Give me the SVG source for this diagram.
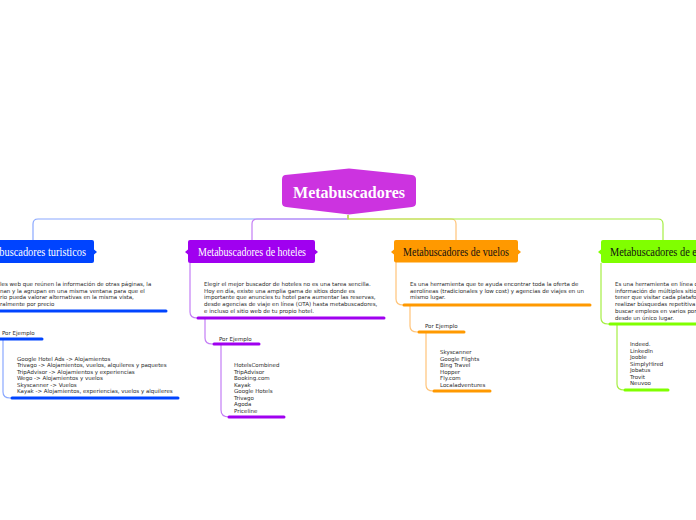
<svg xmlns="http://www.w3.org/2000/svg" width="696" height="520" viewBox="0 0 696 520">
<style>
.t{font-family:"DejaVu Sans","Liberation Sans",sans-serif;font-size:5.5px;fill:#2a2a2a}
.title{font-family:"Liberation Serif","DejaVu Serif",serif;font-size:12px}
.c{fill:none;stroke-width:1.2}
.bar{fill:none;stroke-width:3;stroke-linecap:round}
</style>
<rect width="696" height="520" fill="#fff"/>
<g id="connectors">
<path class="c" stroke="#8aa8ff" d="M348,215 V219 H38 Q33,219 33,224 V240"/>
<path class="c" stroke="#c47ef5" d="M348,215 V219 H257 Q252,219 252,224 V240"/>
<path class="c" stroke="#ffc47a" d="M348,215 V219 H451 Q456,219 456,224 V240"/>
<path class="c" stroke="#a6ee44" d="M348,215 V219 H658 Q663,219 663,224 V240"/>
<path class="c" stroke="#8aa8ff" d="M3,339 V392 Q3,398 10,398 H14"/>
<path class="c" stroke="#c47ef5" d="M190,263 V312 Q190,318 197,318 H200"/>
<path class="c" stroke="#c47ef5" d="M205,318 V338 Q205,344 212,344 H216"/>
<path class="c" stroke="#c47ef5" d="M221,344 V410 Q221,417 229,417 H231"/>
<path class="c" stroke="#ffc47a" d="M396,262 V299 Q396,305 403,305 H406"/>
<path class="c" stroke="#ffc47a" d="M410,305 V326 Q410,332 417,332 H420"/>
<path class="c" stroke="#ffc47a" d="M426,332 V385 Q426,391 433,391 H436"/>
<path class="c" stroke="#a6ee44" d="M601,263 V318 Q601,324 608,324 H611"/>
<path class="c" stroke="#a6ee44" d="M617,324 V384 Q617,390 624,390 H627"/>
</g>
<g id="central">
<path fill="#cc33e0" d="M285,175 L349,168.5 L412,175 Q416,175.5 416,179.5 L416,203 Q416,206.5 412,207 L349,214.5 L286,207 Q282,206.5 282,203 L282,179.5 Q282,175.5 285,175 Z"/>
<text x="349" y="198" text-anchor="middle" font-family="Liberation Serif,DejaVu Serif,serif" font-size="17" font-weight="bold" fill="#fff" textLength="112" lengthAdjust="spacingAndGlyphs">Metabuscadores</text>
</g>
<g id="node-turisticos">
<rect x="-32" y="240" width="126" height="23" rx="2" fill="#0044ff"/>
<polygon points="94,249.5 97,252 94,254.5" fill="#0044ff"/>
<text class="title" x="-22" y="256" fill="#fff" textLength="108" lengthAdjust="spacingAndGlyphs">Metabuscadores turisticos</text>
</g>
<g id="desc-turisticos">
<text class="t" x="0" y="286">les web que reúnen la información de otras páginas, la</text>
<text class="t" x="0" y="292.7">nan y la agrupan en una misma ventana para que el</text>
<text class="t" x="0" y="299.4">rio pueda valorar alternativas en la misma vista,</text>
<text class="t" x="0" y="306">ralmente por precio</text>
<line class="bar" stroke="#0044ff" x1="-2" y1="311" x2="166" y2="311"/>
</g>
<g id="ej-turisticos">
<text class="t" x="2" y="335">Por Ejemplo</text>
<line class="bar" stroke="#0044ff" x1="-2" y1="339" x2="42" y2="339"/>
</g>
<g id="list-turisticos">
<text class="t" x="17" y="360.5">Google Hotel Ads -&gt; Alojamientos</text>
<text class="t" x="17" y="367">Trivago -&gt; Alojamientos, vuelos, alquileres y paquetes</text>
<text class="t" x="17" y="373.5">TripAdvisor -&gt; Alojamientos y experiencias</text>
<text class="t" x="17" y="380">Wego -&gt; Alojamientos y vuelos</text>
<text class="t" x="17" y="386.5">Skyscanner -&gt; Vuelos</text>
<text class="t" x="17" y="393">Kayak -&gt; Alojamientos, experiencias, vuelos y alquileres</text>
<line class="bar" stroke="#0044ff" x1="12" y1="398" x2="178" y2="398"/>
</g>
<g id="node-hoteles">
<rect x="188" y="240" width="127" height="23" rx="2" fill="#a000f0"/>
<polygon points="188,249.5 185,252 188,254.5" fill="#a000f0"/>
<polygon points="315,249.5 318,252 315,254.5" fill="#a000f0"/>
<text class="title" x="198" y="256" fill="#fff" textLength="108" lengthAdjust="spacingAndGlyphs">Metabuscadores de hoteles</text>
</g>
<g id="desc-hoteles">
<text class="t" x="204" y="286">Elegir el mejor buscador de hoteles no es una tarea sencilla.</text>
<text class="t" x="204" y="292.7">Hoy en día, existe una amplia gama de sitios donde es</text>
<text class="t" x="204" y="299.4">importante que anuncies tu hotel para aumentar las reservas,</text>
<text class="t" x="204" y="306.1">desde agencias de viaje en línea (OTA) hasta metabuscadores,</text>
<text class="t" x="204" y="312.8">e incluso el sitio web de tu propio hotel.</text>
<line class="bar" stroke="#a000f0" x1="198" y1="318" x2="384" y2="318"/>
</g>
<g id="ej-hoteles">
<text class="t" x="219" y="341">Por Ejemplo</text>
<line class="bar" stroke="#a000f0" x1="214" y1="344" x2="259" y2="344"/>
</g>
<g id="list-hoteles">
<text class="t" x="234" y="367">HotelsCombined</text>
<text class="t" x="234" y="373.5">TripAdvisor</text>
<text class="t" x="234" y="380">Booking.com</text>
<text class="t" x="234" y="386.5">Kayak</text>
<text class="t" x="234" y="393">Google Hotels</text>
<text class="t" x="234" y="399.5">Trivago</text>
<text class="t" x="234" y="406">Agoda</text>
<text class="t" x="234" y="412.5">Priceline</text>
<line class="bar" stroke="#a000f0" x1="229" y1="417" x2="284" y2="417"/>
</g>
<g id="node-vuelos">
<rect x="394" y="240" width="124" height="22.5" rx="2" fill="#ff9900"/>
<polygon points="394,249.5 391,252 394,254.5" fill="#ff9900"/>
<polygon points="518,249.5 521,252 518,254.5" fill="#ff9900"/>
<text class="title" x="403" y="256" fill="#111" textLength="106" lengthAdjust="spacingAndGlyphs">Metabuscadores de vuelos</text>
</g>
<g id="desc-vuelos">
<text class="t" x="410" y="286">Es una herramienta que te ayuda encontrar toda la oferta de</text>
<text class="t" x="410" y="292.7">aerolíneas (tradicionales y low cost) y agencias de viajes en un</text>
<text class="t" x="410" y="299.4">mismo lugar.</text>
<line class="bar" stroke="#ff9900" x1="404" y1="305" x2="590" y2="305"/>
</g>
<g id="ej-vuelos">
<text class="t" x="425" y="327.7">Por Ejemplo</text>
<line class="bar" stroke="#ff9900" x1="419" y1="332" x2="464" y2="332"/>
</g>
<g id="list-vuelos">
<text class="t" x="440" y="354">Skyscanner</text>
<text class="t" x="440" y="360.5">Google Flights</text>
<text class="t" x="440" y="367">Bing Travel</text>
<text class="t" x="440" y="373.5">Hopper</text>
<text class="t" x="440" y="380">Fly.com</text>
<text class="t" x="440" y="386.5">Localadventures</text>
<line class="bar" stroke="#ff9900" x1="434" y1="391" x2="490" y2="391"/>
</g>
<g id="node-empleo">
<rect x="601" y="240" width="110" height="23" rx="2" fill="#80ff00"/>
<polygon points="601,249.5 598,252 601,254.5" fill="#80ff00"/>
<text class="title" x="610" y="256" fill="#111" textLength="95" lengthAdjust="spacingAndGlyphs">Metabuscadores de em</text>
</g>
<g id="desc-empleo">
<text class="t" x="615" y="286">Es una herramienta en línea q</text>
<text class="t" x="615" y="292.7">información de múltiples sitio</text>
<text class="t" x="615" y="299.4">tener que visitar cada platafo</text>
<text class="t" x="615" y="306.1">realizar búsquedas repetitiva</text>
<text class="t" x="615" y="312.8">buscar empleos en varios por</text>
<text class="t" x="615" y="319.5">desde un único lugar.</text>
<line class="bar" stroke="#80ff00" x1="610" y1="324" x2="700" y2="324"/>
</g>
<g id="list-empleo">
<text class="t" x="630" y="346">Indeed.</text>
<text class="t" x="630" y="352.5">LinkedIn</text>
<text class="t" x="630" y="359">Jooble</text>
<text class="t" x="630" y="365.5">SimplyHired</text>
<text class="t" x="630" y="372">Jobatus</text>
<text class="t" x="630" y="378.5">Trovit</text>
<text class="t" x="630" y="385">Neuvoo</text>
<line class="bar" stroke="#80ff00" x1="625" y1="390" x2="668" y2="390"/>
</g>
</svg>
